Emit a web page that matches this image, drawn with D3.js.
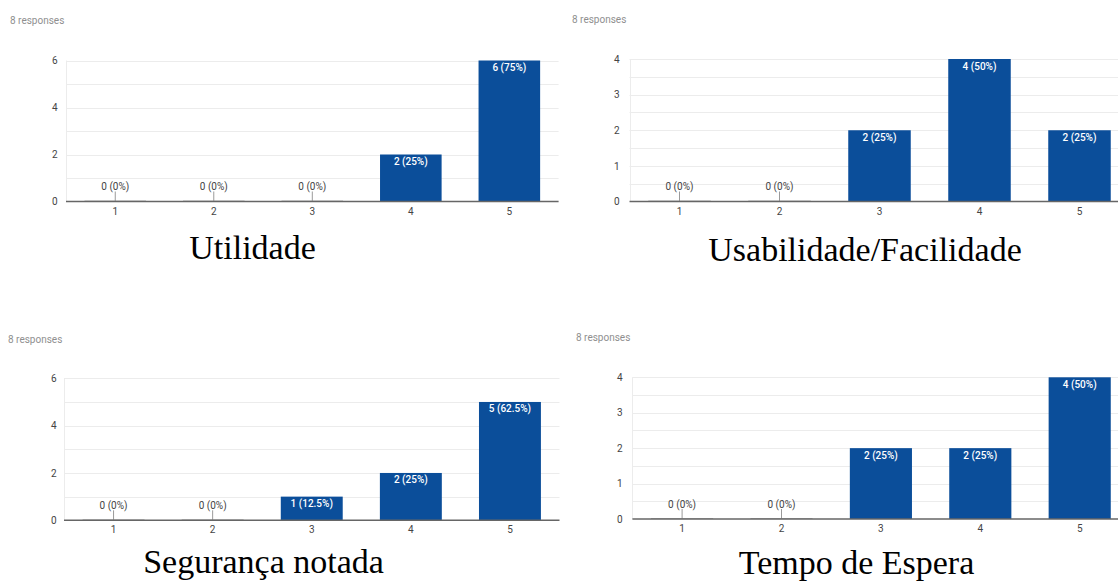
<!DOCTYPE html>
<html><head><meta charset="utf-8">
<script src="https://cdn.jsdelivr.net/npm/d3@7"></script>
<style>body{margin:0;background:#fff;} svg{display:block}</style>
</head><body>
<svg id="c" width="1118" height="581"></svg>
<script>
// ---- data ----
const categories = ["1", "2", "3", "4", "5"];
const utilidade   = [0, 0, 0, 2, 6];
const usabilidade = [0, 0, 2, 4, 2];
const seguranca   = [0, 0, 1, 2, 5];
const tempoEspera = [0, 0, 2, 2, 4];
const titles = ["Utilidade", "Usabilidade/Facilidade", "Segurança notada", "Tempo de Espera"];
const responsesText = "8 responses";
const totalResponses = 8;
const yTicksA = [0, 2, 4, 6];
const yTicksB = [0, 1, 2, 3, 4];

// ---- layout ----
const panels = [
  {values: utilidade,   title: titles[0], ticks: yTicksA, left: 66,    right: 558.6,  top: 60.5,  zero: 201.5, labX: 57.5,  respX: 10,  respY: 24.2,  tX: 252.5, tY: 259},
  {values: usabilidade, title: titles[1], ticks: yTicksB, left: 629.5, right: 1129.5, top: 59,    zero: 201.5, labX: 619.5, respX: 572, respY: 22.5,  tX: 865,   tY: 261},
  {values: seguranca,   title: titles[2], ticks: yTicksA, left: 64,    right: 559.5,  top: 378.3, zero: 520.3, labX: 56.5,  respX: 8,   respY: 342.5, tX: 263.5, tY: 573},
  {values: tempoEspera, title: titles[3], ticks: yTicksB, left: 632.4, right: 1129.4, top: 377.3, zero: 519,   labX: 622.5, respX: 576, respY: 341,   tX: 856.5, tY: 574}
];

const svg = d3.select("#c");
const BAR = "#0b4e9a";
const FONT = "Roboto, Arial, sans-serif";

function pctLabel(v) {
  const p = +(v / totalResponses * 100).toFixed(1);
  return `${v} (${p}%)`;
}

panels.forEach(P => {
  const g = svg.append("g");
  const maxV = d3.max(P.ticks);
  const y = d3.scaleLinear().domain([0, maxV]).range([P.zero, P.top]);
  const x = d3.scaleBand().domain(categories).range([P.left, P.right])
              .paddingInner(0.375).paddingOuter(0.1875);

  // responses caption
  g.append("text").attr("x", P.respX).attr("y", P.respY)
    .attr("font-family", FONT).attr("font-size", 10).attr("fill", "#8f8f8f")
    .text(responsesText);

  // gridlines: major ticks and midpoints
  const stepT = P.ticks[1] - P.ticks[0];
  const gridVals = [];
  P.ticks.forEach(t => { if (t > 0) gridVals.push(t); if (t + stepT / 2 < maxV) gridVals.push(t + stepT / 2); });
  g.selectAll("line.grid").data(Array.from(new Set(gridVals))).join("line")
    .attr("x1", P.left).attr("x2", P.right)
    .attr("y1", d => Math.round(y(d)) + 0.5).attr("y2", d => Math.round(y(d)) + 0.5)
    .attr("stroke", "#ececec").attr("stroke-width", 1);
  // left border
  g.append("line").attr("x1", Math.round(P.left) + 0.5).attr("x2", Math.round(P.left) + 0.5)
    .attr("y1", y(maxV)).attr("y2", P.zero).attr("stroke", "#ececec");

  // y axis labels
  const yAxis = d3.axisLeft(y).tickValues(P.ticks).tickFormat(d3.format("d")).tickSize(0).tickPadding(0);
  const ya = g.append("g").attr("transform", `translate(${P.labX},0)`).call(yAxis);
  ya.select(".domain").remove();
  ya.selectAll("text").attr("font-family", FONT).attr("font-size", 10).attr("fill", "#444");

  // bars
  const data = categories.map((c, i) => ({c, v: P.values[i]}));
  g.selectAll("rect.bar").data(data.filter(d => d.v > 0)).join("rect")
    .attr("x", d => x(d.c)).attr("width", x.bandwidth())
    .attr("y", d => y(d.v)).attr("height", d => y(0) - y(d.v))
    .attr("fill", BAR);

  // zero-value bars: grey segment + tick + label
  const zeros = data.filter(d => d.v === 0);
  g.selectAll("line.zseg").data(zeros).join("line")
    .attr("x1", d => x(d.c)).attr("x2", d => x(d.c) + x.bandwidth())
    .attr("y1", y(0) - 0.5).attr("y2", y(0) - 0.5)
    .attr("stroke", "#b5b5b5").attr("stroke-width", 1);
  g.selectAll("line.ztick").data(zeros).join("line")
    .attr("x1", d => x(d.c) + x.bandwidth() / 2).attr("x2", d => x(d.c) + x.bandwidth() / 2)
    .attr("y1", y(0) - 10).attr("y2", y(0))
    .attr("stroke", "#9a9a9a").attr("stroke-width", 1);
  g.selectAll("text.zlab").data(zeros).join("text")
    .attr("x", d => x(d.c) + x.bandwidth() / 2).attr("y", y(0) - 11.5)
    .attr("text-anchor", "middle").attr("font-family", FONT).attr("font-size", 10)
    .attr("fill", "#444").text(d => pctLabel(d.v));

  // baseline
  g.append("line").attr("x1", P.left).attr("x2", P.right)
    .attr("y1", y(0)).attr("y2", y(0)).attr("stroke", "#666").attr("stroke-width", 1.5);

  // value labels inside bars
  g.selectAll("text.vlab").data(data.filter(d => d.v > 0)).join("text")
    .attr("x", d => x(d.c) + x.bandwidth() / 2).attr("y", d => y(d.v) + 10.5)
    .attr("text-anchor", "middle").attr("font-family", FONT).attr("font-size", 10)
    .attr("font-weight", 500).attr("fill", "#fff").text(d => pctLabel(d.v));

  // x axis labels
  const xa = g.append("g").attr("transform", `translate(0,${P.zero})`)
    .call(d3.axisBottom(x).tickSize(0).tickPadding(6));
  xa.select(".domain").remove();
  xa.selectAll("text").attr("font-family", FONT).attr("font-size", 10).attr("fill", "#444");

  // title
  svg.append("text").attr("x", P.tX).attr("y", P.tY).attr("text-anchor", "middle")
    .attr("font-family", "'Liberation Serif', 'Times New Roman', serif").attr("font-size", 34)
    .attr("fill", "#000").text(P.title);
});
</script>
</body></html>
